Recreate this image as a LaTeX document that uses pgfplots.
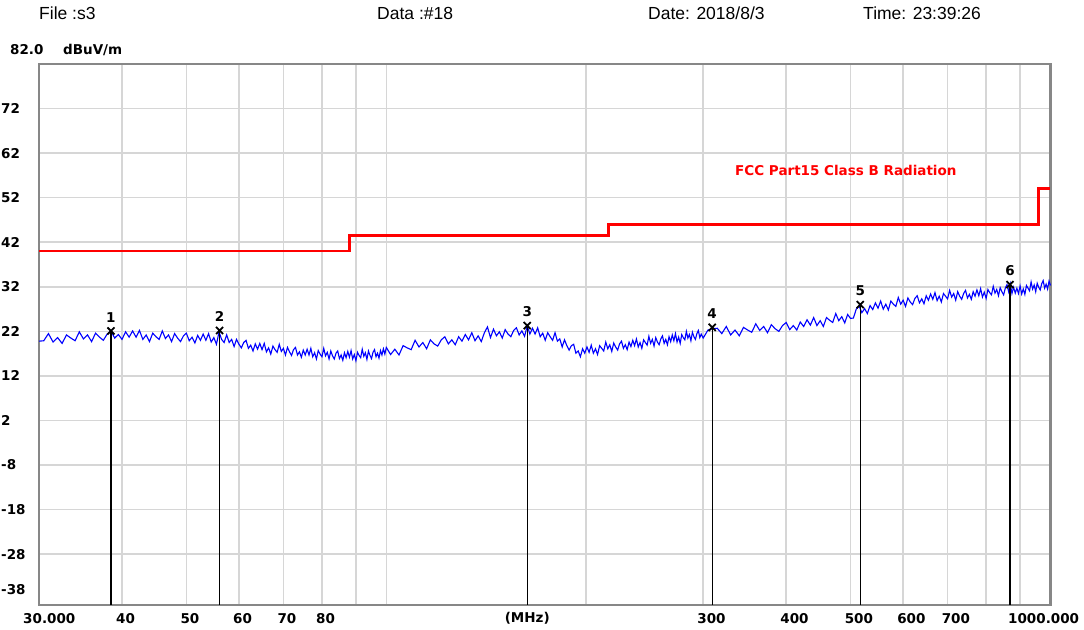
\documentclass[border=0pt]{standalone}
\usepackage{fontspec}
\setmainfont{Liberation Sans}
\newfontfamily\dv{DejaVu Sans}
\usepackage{pgfplots}
\pgfplotsset{compat=1.18}

\definecolor{gridc}{RGB}{214,214,214}
\definecolor{framec}{RGB}{135,135,135}
\newcommand{\tl}{\dv\bfseries\fontsize{13.5}{15}\selectfont}
\newcommand{\hd}{\fontsize{17.5}{20}\selectfont}

\begin{document}
\begin{tikzpicture}[x=1pt,y=1pt]
\useasboundingbox (0,0) rectangle (1084,629);

% header
\node[anchor=west, inner sep=0pt, font=\hd] at (39,616)  {File :s3};
\node[anchor=west, inner sep=0pt, font=\hd] at (377,616) {Data :\#18};
\node[anchor=west, inner sep=0pt, font=\hd] at (648,616) {Date: 2018/8/3};
\node[anchor=west, inner sep=0pt, font=\hd] at (863,616) {Time: 23:39:26};
\node[anchor=west, inner sep=0pt, font=\tl] at (10,579) {82.0};
\node[anchor=west, inner sep=0pt, font=\tl] at (63,579) {dBuV/m};
\node[anchor=west, inner sep=0pt, font=\tl] at (1,39) {-38};

\begin{axis}[
  at={(39pt,24pt)}, anchor=south west,
  width=1011.5pt, height=541pt, scale only axis,
  xmode=log, xmin=30, xmax=1000, ymin=-39.4, ymax=82,
  xtick={40,50,60,70,80,90,100,200,300,400,500,600,700,800,900},
  ytick={-28,-18,...,72},
  xticklabels={,,}, yticklabels={,,},
  tick style={draw=none},
  grid=major, grid style={gridc, line width=1.6pt},
  axis line style={framec, line width=2.6pt},
  clip=false,
]

% measured trace
\addplot[blue, line width=1.1pt] coordinates {
(30,19.8)(30.5,19.9)(31,21.5)(31.5,19.6)(32,20.6)(32.5,19.3)(33,21.2)(33.5,20.5)(34,19.9)(34.5,21.9)
(35,20.3)(35.5,21.2)(36,19.7)(36.5,21.6)(37,20.7)(37.5,20.0)(38,21.4)(38.5,22.1)(39,20.5)(39.5,21.3)
(40,20.2)(40.5,21.9)(41,20.7)(41.5,22.1)(42,20.7)(42.5,22.2)(43,20.2)(43.5,21.2)(44,19.7)(44.5,21.6)
(45,20.8)(45.5,20.2)(46,22.1)(46.5,20.4)(47,21.2)(47.5,19.7)(48,21.5)(48.5,20.5)(49,19.7)(49.5,21.0)
(50,21.6)(50.5,19.9)(51,20.7)(51.5,19.4)(52,21.1)(52.5,20.0)(53,21.4)(53.5,20.0)(54,21.5)(54.5,19.6)
(55,20.6)(55.5,19.1)(56,21.9)(56.5,20.2)(57,19.5)(57.5,21.2)(58,19.5)(58.5,20.2)(59,18.6)(59.5,20.2)
(60,19.1)(60.5,18.3)(61,19.5)(61.5,20.0)(62,18.2)(62.5,18.9)(63,17.6)(63.5,19.2)(64,18.0)(64.5,19.3)
(65,17.9)(65.5,19.3)(66,17.4)(66.5,18.3)(67,16.9)(67.5,18.7)(68,17.9)(68.5,17.3)(69,19.1)(69.5,17.5)
(70,18.2)(70.5,16.7)(71,18.4)(71.5,17.4)(72,16.6)(72.5,17.9)(73,18.4)(73.5,16.7)(74,17.4)(74.5,16.2)
(75,17.8)(75.5,16.7)(76,18.0)(76.5,16.7)(77,18.2)(77.5,16.3)(78,17.2)(78.5,15.8)(79,17.7)(79.5,16.9)
(80,16.3)(80.5,18.2)(81,16.5)(81.5,17.3)(82,15.8)(82.5,17.6)(83,16.5)(83.5,15.8)(84,17.1)(84.5,17.6)
(85,15.9)(85.5,16.7)(86,15.5)(86.5,17.2)(87,16.1)(87.5,17.5)(88,16.2)(88.5,17.7)(89,15.8)(89.5,16.8)
(90,15.4)(90.5,17.3)(91,16.6)(91.5,16.1)(92,18.0)(92.5,16.4)(93,17.2)(93.5,15.7)(94,17.6)(94.5,16.6)
(95,15.9)(95.5,17.3)(96,17.9)(96.5,16.3)(97,17.1)(97.5,16.0)(98,17.7)(98.5,16.7)(99,18.1)(99.5,16.9)
(100,18.4)(101.5,16.8)(103,18.0)(104.5,16.7)(106,18.8)(107.5,18.3)(109,17.9)(110.5,20.0)(112,18.5)(113.5,19.5)
(115,18.1)(116.5,20.1)(118,19.2)(119.5,18.7)(121,20.1)(122.5,20.8)(124,19.2)(125.5,20.1)(127,19.0)(128.5,20.8)
(130,19.8)(131.5,21.3)(133,20.1)(134.5,21.7)(136,19.9)(137.5,21.0)(139,19.7)(140.5,21.7)(142,23.0)(143.5,20.6)
(145,22.5)(146.5,21.0)(148,21.9)(149.5,20.5)(151,22.4)(152.5,21.4)(154,20.8)(155.5,22.2)(157,22.8)(158.5,21.2)
(160,22.1)(161.5,20.9)(163,23.3)(164.5,21.4)(166,22.7)(167.5,21.4)(169,22.8)(170.5,20.8)(172,21.6)(173.5,20.0)
(175,21.7)(176.5,20.8)(178,20.0)(179.5,21.7)(181,19.8)(182.5,20.3)(184,18.5)(185.5,20.1)(187,18.8)(188.5,17.8)
(190,18.8)(191.5,19.1)(193,17.1)(194.5,17.6)(196,16.3)(197.5,18.1)(199,17.1)(200.5,18.5)(202,17.3)(203.5,18.9)
(205,17.1)(206.5,18.1)(208,16.8)(209.5,18.8)(211,18.2)(212.5,17.6)(214,19.6)(215.5,18.1)(217,19.0)(218.5,17.5)
(220,19.4)(221.5,18.5)(223,17.8)(224.5,19.2)(226,19.8)(227.5,18.2)(229,19.0)(230.5,17.9)(232,19.6)(233.5,18.6)
(235,20.0)(236.5,18.8)(238,20.3)(239.5,18.5)(241,19.5)(242.5,18.2)(244,20.1)(245.5,19.5)(247,18.9)(248.5,20.9)
(250,19.3)(251.5,20.2)(253,18.7)(254.5,20.6)(256,19.6)(257.5,19.0)(259,20.3)(260.5,21.0)(262,19.3)(263.5,20.2)
(265,19.0)(266.5,20.8)(268,19.7)(269.5,21.2)(271,19.9)(272.5,21.5)(274,19.6)(275.5,20.7)(277,19.3)(278.5,21.3)
(280,20.6)(281.5,20.1)(283,22.0)(284.5,20.5)(286,21.3)(287.5,19.9)(289,21.8)(290.5,20.8)(292,20.2)(293.5,21.5)
(295,22.2)(296.5,20.6)(298,21.4)(300,20.5)(305,22.3)(310,22.6)(315,22.7)(320,21.5)(325,23.1)(330,21.2)
(335,22.3)(340,21.0)(345,22.9)(350,22.3)(355,21.8)(360,23.7)(365,22.2)(370,23.1)(375,21.7)(380,23.5)
(385,22.6)(390,22.0)(395,23.3)(400,24.0)(405,22.4)(410,23.3)(415,22.3)(420,24.1)(425,23.1)(430,24.6)
(435,23.4)(440,25.1)(445,23.3)(450,24.4)(455,23.1)(460,25.1)(465,24.5)(470,24.0)(475,26.0)(480,24.4)
(485,25.3)(490,23.9)(495,25.8)(500,24.9)(505,25.0)(510,27.0)(515,27.7)(520,26.2)(525,27.1)(530,26.0)
(535,27.8)(540,26.9)(545,28.4)(550,27.2)(555,28.8)(560,27.0)(565,28.1)(570,26.8)(575,28.8)(580,28.1)
(585,27.6)(590,29.6)(595,28.1)(600,29.0)(605,27.6)(610,29.5)(615,28.6)(620,28.0)(625,29.4)(630,30.0)
(635,28.4)(640,29.3)(645,28.2)(650,30.0)(655,29.0)(660,30.4)(665,29.2)(670,30.7)(675,28.9)(680,29.9)
(685,28.6)(690,30.5)(695,29.9)(700,29.3)(705,31.2)(710,29.7)(715,30.5)(720,29.0)(725,30.9)(730,29.9)
(735,29.2)(740,30.5)(745,31.2)(750,29.5)(755,30.3)(760,29.2)(765,30.9)(770,29.9)(775,31.3)(780,30.0)
(785,31.6)(790,29.7)(795,30.8)(800,29.4)(805,31.4)(810,30.7)(815,30.2)(820,32.1)(825,30.6)(830,31.4)
(835,30.0)(840,31.8)(845,30.9)(850,30.2)(855,31.7)(860,32.5)(865,30.9)(870,32.7)(875,30.5)(880,31.9)
(885,30.6)(890,31.7)(895,30.5)(900,32.2)(905,30.4)(910,31.5)(915,30.3)(920,32.3)(925,31.7)(930,31.1)
(935,33.1)(940,31.5)(945,32.4)(950,30.9)(955,32.8)(960,31.9)(965,31.3)(970,32.7)(975,33.4)(980,31.7)
(985,32.6)(990,31.5)(995,33.3)(1000,32.3)
};

% FCC Part 15 Class B limit
\addplot[red, line width=2.6pt, const plot] coordinates {
(30,40)(88,43.5)(216,46)(960,54)(1000,54)
};

% marker lines
\addplot[black, line width=1.3pt] coordinates {(38.5,22.1)(38.5,-39.4)};
\addplot[black, line width=1.3pt] coordinates {(56.1,22.2)(56.1,-39.4)};
\addplot[black, line width=1.3pt] coordinates {(163,23.3)(163,-39.4)};
\addplot[black, line width=1.3pt] coordinates {(309.5,22.9)(309.5,-39.4)};
\addplot[black, line width=1.3pt] coordinates {(517,28.0)(517,-39.4)};
\addplot[black, line width=1.3pt] coordinates {(869,32.5)(869,-39.4)};

% markers
\addplot[only marks, mark=x, mark size=5pt,
  mark options={black, line width=1.8pt},
  point meta=explicit symbolic, nodes near coords,
  every node near coord/.style={anchor=south, inner sep=0pt, yshift=8pt,
    font=\dv\bfseries\fontsize{13.5}{15}\selectfont, text=black}]
coordinates {
(38.5,22.1)[1] (56.1,22.2)[2] (163,23.3)[3] (309.5,22.9)[4] (517,28.0)[5] (869,32.5)[6]
};

% limit label
\node[anchor=west, inner sep=0pt, font=\tl, text=red]
  at (axis cs:335,58.1) {FCC Part15 Class B Radiation};

% y tick labels
\pgfplotsinvokeforeach{72,62,52,42,32,22,12,2,-8,-18,-28}{
  \node[anchor=west, inner sep=0pt, font=\tl] at ([xshift=-38pt]axis cs:30,#1) {#1};
}
% x tick labels
\pgfplotsinvokeforeach{40,50,60,70,80,300,400,500,600,700}{
  \node[anchor=north west, inner sep=0pt, font=\tl] at ([xshift=-6pt,yshift=-8pt]axis cs:#1,-39.4) {#1};
}
\node[anchor=north west, inner sep=0pt, font=\tl] at ([xshift=-16pt,yshift=-8pt]axis cs:30,-39.4) {30.000};
\node[anchor=north west, inner sep=0pt, font=\tl] at ([xshift=-42.5pt,yshift=-8pt]axis cs:1000,-39.4) {1000.000};
\node[anchor=north, inner sep=0pt, font=\tl] at ([yshift=-7pt]axis cs:163,-39.4) {(MHz)};

\end{axis}
\end{tikzpicture}
\end{document}
